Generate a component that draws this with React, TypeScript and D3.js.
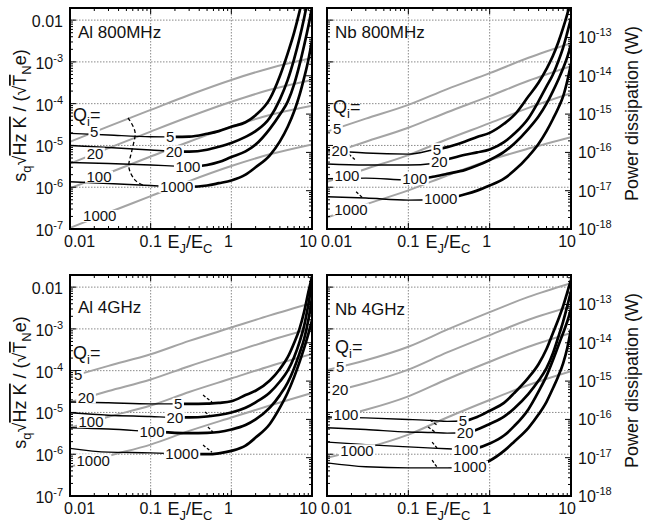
import React from "react";
import * as d3 from "d3";

// E_J/E_C sample points for the sensitivity (black) and power (gray) curves
const EJEC = [0.01, 0.03, 0.1, 0.2, 0.3, 0.5, 0.7, 1, 1.5, 2, 3, 4, 5, 6, 7, 8, 9, 10];
const EJEC_P = [0.01, 0.03, 0.1, 0.3, 1, 3, 10];
const QI = ["5", "20", "100", "1000"];

// charge sensitivity, one row per Qi (5, 20, 100, 1000)
const SENS_AL800 = [
  [1.95e-5, 1.78e-5, 1.62e-5, 1.6e-5, 1.62e-5, 1.9e-5, 2.2e-5, 2.8e-5, 3.6e-5, 5.3e-5, 1.3e-4, 4.6e-4, 1.6e-3, 5e-3, 1.6e-2, 5e-2, 0.15, 0.4],
  [1.0e-5, 8.9e-6, 7.8e-6, 7.2e-6, 7.1e-6, 7.9e-6, 9.3e-6, 1.15e-5, 1.6e-5, 2.2e-5, 4.6e-5, 1.27e-4, 3.7e-4, 1.17e-3, 3.65e-3, 1.14e-2, 3.6e-2, 0.11],
  [3.9e-6, 3.7e-6, 3.4e-6, 3.2e-6, 3.1e-6, 3.4e-6, 4.0e-6, 5.3e-6, 7.2e-6, 1.05e-5, 2.5e-5, 5.5e-5, 1.12e-4, 2.9e-4, 8.5e-4, 2.5e-3, 7e-3, 2e-2],
  [1.35e-6, 1.23e-6, 1.1e-6, 1.03e-6, 1.02e-6, 1.1e-6, 1.25e-6, 1.45e-6, 2.0e-6, 3.0e-6, 5.8e-6, 1.25e-5, 2.8e-5, 6.5e-5, 1.6e-4, 4.2e-4, 1.1e-3, 3.2e-3],
];
const SENS_NB800 = [
  [7.8e-6, 6.6e-6, 6.2e-6, 7.8e-6, 9.1e-6, 1.25e-5, 1.6e-5, 2.0e-5, 3.3e-5, 5.3e-5, 1.5e-4, 3.2e-4, 6.8e-4, 1.4e-3, 3e-3, 6.5e-3, 1.4e-2, 3e-2],
  [3.6e-6, 3.4e-6, 3.4e-6, 3.7e-6, 4.6e-6, 6.0e-6, 6.8e-6, 8.0e-6, 1.2e-5, 1.9e-5, 4.5e-5, 1.15e-4, 2.6e-4, 5e-4, 1.05e-3, 2.2e-3, 5e-3, 1.1e-2],
  [1.6e-6, 1.65e-6, 1.5e-6, 1.78e-6, 2.1e-6, 2.6e-6, 3.3e-6, 4.5e-6, 7e-6, 1.1e-5, 2.5e-5, 5e-5, 1e-4, 2e-4, 3.8e-4, 7e-4, 1.3e-3, 2.6e-3],
  [5.9e-7, 5.5e-7, 4.9e-7, 5.0e-7, 5.4e-7, 6.8e-7, 8.3e-7, 1.1e-6, 1.6e-6, 2.5e-6, 5.5e-6, 1.1e-5, 2.2e-5, 4.3e-5, 8e-5, 1.5e-4, 3.5e-4, 9e-4],
];
const SENS_AL4 = [
  [1.78e-5, 1.7e-5, 1.6e-5, 1.6e-5, 1.6e-5, 1.62e-5, 1.7e-5, 1.85e-5, 2.6e-5, 3.3e-5, 5.8e-5, 1.1e-4, 2.1e-4, 4.6e-4, 1.0e-3, 2.6e-3, 7.5e-3, 1.8e-2],
  [9.8e-6, 8.6e-6, 8.0e-6, 7.6e-6, 7.6e-6, 8.0e-6, 8.7e-6, 1.0e-5, 1.3e-5, 1.75e-5, 3.0e-5, 5.5e-5, 1.0e-4, 2.1e-4, 4.8e-4, 1.2e-3, 3.8e-3, 1.25e-2],
  [4.3e-6, 4.0e-6, 3.5e-6, 3.25e-6, 3.2e-6, 3.25e-6, 3.4e-6, 3.9e-6, 5.0e-6, 6.8e-6, 1.3e-5, 2.6e-5, 5.2e-5, 1.15e-4, 2.6e-4, 5.8e-4, 1.6e-3, 5.5e-3],
  [1.38e-6, 1.12e-6, 1.08e-6, 1.03e-6, 1.0e-6, 1.0e-6, 1.05e-6, 1.2e-6, 1.6e-6, 2.5e-6, 5.3e-6, 1.3e-5, 3e-5, 7e-5, 1.6e-4, 3.5e-4, 7.5e-4, 1.6e-3],
];
const SENS_NB4 = [
  [7.8e-6, 7.4e-6, 6.8e-6, 6.4e-6, 6.1e-6, 6.4e-6, 7.8e-6, 1.1e-5, 1.7e-5, 2.9e-5, 6.8e-5, 1.45e-4, 3.3e-4, 8e-4, 1.7e-3, 3.5e-3, 7.5e-3, 1.5e-2],
  [4.3e-6, 3.9e-6, 3.4e-6, 3.3e-6, 3.2e-6, 3.3e-6, 3.9e-6, 5.3e-6, 7.9e-6, 1.25e-5, 2.8e-5, 5.8e-5, 1.15e-4, 2.6e-4, 6.5e-4, 1.5e-3, 3.5e-3, 8e-3],
  [1.95e-6, 1.7e-6, 1.5e-6, 1.4e-6, 1.35e-6, 1.3e-6, 1.4e-6, 1.8e-6, 2.8e-6, 4.7e-6, 1.2e-5, 3.2e-5, 7.5e-5, 1.8e-4, 4e-4, 8e-4, 1.5e-3, 3e-3],
  [6.2e-7, 5.0e-7, 4.7e-7, 4.7e-7, 4.7e-7, 4.8e-7, 5.4e-7, 7.0e-7, 1.2e-6, 2.0e-6, 4.3e-6, 9e-6, 1.8e-5, 3.8e-5, 7.5e-5, 1.5e-4, 3.5e-4, 1e-3],
];

// power dissipation (W), one row per Qi
const POWER_AL800 = [
  [1.9e-16, 4.8e-16, 1.29e-15, 3.16e-15, 7.8e-15, 1.58e-14, 2.9e-14],
  [5.1e-17, 1.29e-16, 3.5e-16, 8.5e-16, 2.1e-15, 4.3e-15, 7.8e-15],
  [1.15e-17, 2.9e-17, 7.8e-17, 1.9e-16, 4.7e-16, 9.5e-16, 1.66e-15],
  [1.07e-18, 2.7e-18, 7.2e-18, 1.78e-17, 4.4e-17, 8.9e-17, 1.62e-16],
];
const POWER_NB800 = [
  [3.5e-16, 7.6e-16, 1.74e-15, 4.5e-15, 1.17e-14, 2.95e-14, 7.1e-14],
  [8.7e-17, 1.9e-16, 4.4e-16, 1.12e-15, 2.95e-15, 7.4e-15, 1.78e-14],
  [1.7e-17, 3.7e-17, 8.5e-17, 2.2e-16, 5.8e-16, 1.45e-15, 3.5e-15],
  [2.0e-18, 4.4e-18, 1.02e-17, 2.5e-17, 6.3e-17, 1.26e-16, 2.5e-16],
];
const POWER_AL4 = [
  [1.29e-15, 2.5e-15, 5e-15, 1.12e-14, 2.5e-14, 5.2e-14, 1.1e-13],
  [2.8e-16, 5.5e-16, 1.1e-15, 2.45e-15, 5.5e-15, 1.15e-14, 2.4e-14],
  [6.0e-17, 1.17e-16, 2.3e-16, 5.2e-16, 1.17e-15, 2.45e-15, 5.1e-15],
  [5.8e-18, 1.12e-17, 2.2e-17, 5e-17, 1.12e-16, 2.3e-16, 4.9e-16],
];
const POWER_NB4 = [
  [1.95e-15, 3.5e-15, 7.9e-15, 2.2e-14, 6.3e-14, 1.58e-13, 3.6e-13],
  [4.9e-16, 8.9e-16, 2.0e-15, 5.6e-15, 1.58e-14, 4e-14, 8.9e-14],
  [1e-16, 1.78e-16, 4e-16, 1.12e-15, 3.2e-15, 7.9e-15, 1.82e-14],
  [1e-17, 1.78e-17, 4e-17, 1.12e-16, 3.2e-16, 7.9e-16, 1.82e-15],
];

// E_J/E_C where each Qi label sits (black curve labels / gray curve labels)
const SENS_LABEL_AL800 = [0.174, 0.195, 0.29, 0.21];
const SENS_LABEL_NB800 = [0.225, 0.24, 0.12, 0.25];
const SENS_LABEL_AL4 = [0.22, 0.2, 0.104, 0.245];
const SENS_LABEL_NB4 = [0.47, 0.5, 0.51, 0.57];
const POWER_LABEL_AL800 = [0.0199, 0.0204, 0.0229, 0.0234];
const POWER_LABEL_NB800 = [0.0133, 0.0144, 0.0176, 0.0197];
const POWER_LABEL_AL4 = [0.0126, 0.0158, 0.0182, 0.0194];
const POWER_LABEL_NB4 = [0.0145, 0.0145, 0.0171, 0.0234];

// dashed boundary in the Al 800MHz panel
const DASH_AL800: [number, number][] = [
  [0.0524, 4.6e-5], [0.064, 2.1e-5], [0.0587, 7.8e-6], [0.0537, 3.0e-6], [0.064, 1.48e-6], [0.08, 1.12e-6],
];
// short dashed marks [x1, s1, x2, s2]
const MARKS_NB800 = [
  [0.0186, 6.2e-6, 0.0228, 4.3e-6],
  [0.0228, 7.8e-7, 0.0277, 5.5e-7],
];
const MARKS_AL4 = [
  [0.446, 2.6e-5, 0.575, 1.78e-5],
  [0.47, 1.02e-5, 0.575, 7.8e-6],
  [0.513, 4.5e-6, 0.59, 3.4e-6],
  [0.446, 1.66e-6, 0.575, 1.12e-6],
];
const MARKS_NB4 = [
  [0.185, 6.6e-6, 0.225, 5.0e-6],
  [0.175, 4.5e-6, 0.213, 3.4e-6],
  [0.196, 1.95e-6, 0.225, 1.41e-6],
  [0.196, 7.2e-7, 0.225, 4.9e-7],
];

const SENS_TICKS = [1e-2, 1e-3, 1e-4, 1e-5, 1e-6, 1e-7];
const POWER_TICKS = [1e-13, 1e-14, 1e-15, 1e-16, 1e-17, 1e-18];
const X_TICKS = [0.01, 0.1, 1, 10];

const SENS_TOP = Math.pow(10, -1.71);
const POWER_TOP = Math.pow(10, -12.23);

const COLS = [[70, 312], [327, 571]];
const ROWS = [[8, 229], [275, 496]];
const FONT = "Liberation Sans, Arial, Helvetica, sans-serif";
const GRAY = "#a4a4a4";

const PANELS = [
  { id: "al800", title: "Al 800MHz", col: 0, row: 0, sens: SENS_AL800, power: POWER_AL800, sLab: SENS_LABEL_AL800, pLab: POWER_LABEL_AL800, marks: [] as number[][], dash: DASH_AL800, titleDy: 30, qiDx: 3, qiDy: 113 },
  { id: "nb800", title: "Nb 800MHz", col: 1, row: 0, sens: SENS_NB800, power: POWER_NB800, sLab: SENS_LABEL_NB800, pLab: POWER_LABEL_NB800, marks: MARKS_NB800, dash: null, titleDy: 30, qiDx: 6, qiDy: 105 },
  { id: "al4", title: "Al 4GHz", col: 0, row: 1, sens: SENS_AL4, power: POWER_AL4, sLab: SENS_LABEL_AL4, pLab: POWER_LABEL_AL4, marks: MARKS_AL4, dash: null, titleDy: 38, qiDx: 3, qiDy: 84 },
  { id: "nb4", title: "Nb 4GHz", col: 1, row: 1, sens: SENS_NB4, power: POWER_NB4, sLab: SENS_LABEL_NB4, pLab: POWER_LABEL_NB4, marks: MARKS_NB4, dash: null, titleDy: 40, qiDx: 8, qiDy: 78 },
];

function logInterp(xs: number[], ys: number[], x: number) {
  const lx = Math.log10(x);
  for (let i = 0; i < xs.length - 1; i++) {
    if (x >= xs[i] && x <= xs[i + 1]) {
      const a = Math.log10(xs[i]), b = Math.log10(xs[i + 1]);
      const t = (lx - a) / (b - a);
      return Math.pow(10, Math.log10(ys[i]) + t * (Math.log10(ys[i + 1]) - Math.log10(ys[i])));
    }
  }
  return ys[ys.length - 1];
}

function isDecade(v: number) {
  const l = Math.log10(v);
  return Math.abs(l - Math.round(l)) < 1e-6;
}

function Label({ cx, cy, text, size = 15 }: { cx: number; cy: number; text: string; size?: number }) {
  const w = text.length * 0.556 * size;
  return (
    <g>
      <rect x={cx - w / 2 - 1.5} y={cy - 6} width={w + 3} height={12} fill="white" />
      <text x={cx} y={cy + 5.4} textAnchor="middle" fontSize={size}>{text}</text>
    </g>
  );
}

function Panel({ p }: { p: (typeof PANELS)[number] }) {
  const [x0, x1] = COLS[p.col];
  const [y0, y1] = ROWS[p.row];
  const x = d3.scaleLog().domain([0.01, 10]).range([x0, x1]);
  const y = d3.scaleLog().domain([1e-7, SENS_TOP]).range([y1, y0]);
  const yp = d3.scaleLog().domain([1e-18, POWER_TOP]).range([y1, y0]);

  const sensLine = d3.line<number>().x((_, i) => x(EJEC[i])).y((d) => y(d)).curve(d3.curveMonotoneX);
  const powLine = d3.line<number>().x((_, i) => x(EJEC_P[i])).y((d) => yp(d)).curve(d3.curveMonotoneX);
  const dashLine = d3.line<[number, number]>().x((d) => x(d[0])).y((d) => y(d[1])).curve(d3.curveCatmullRom);

  const clipId = `clip-${p.id}`;
  const xMinor = x.ticks();
  const sMinor = y.ticks().filter((v) => v >= 1e-7 && v <= SENS_TOP);
  const pMinor = yp.ticks().filter((v) => v >= 1e-18 && v <= POWER_TOP);

  return (
    <g>
      <defs>
        <clipPath id={clipId}>
          <rect x={x0} y={y0} width={x1 - x0} height={y1 - y0} />
        </clipPath>
        {p.sLab.map((lx, i) => (
          <React.Fragment key={i}>
            <clipPath id={`${clipId}-thin-${i}`}>
              <rect x={x0} y={y0} width={x(lx) - x0} height={y1 - y0} />
            </clipPath>
            <clipPath id={`${clipId}-thick-${i}`}>
              <rect x={x(lx)} y={y0} width={x1 - x(lx)} height={y1 - y0} />
            </clipPath>
          </React.Fragment>
        ))}
      </defs>

      {/* grid */}
      <g stroke="#8a8a8a" strokeWidth={1} strokeDasharray="1.5 1.5">
        {[0.1, 1].map((v) => (
          <line key={v} x1={x(v)} x2={x(v)} y1={y0} y2={y1} />
        ))}
        {SENS_TICKS.filter((v) => v > 1e-7).map((v) => (
          <line key={v} x1={x0} x2={x1} y1={y(v)} y2={y(v)} />
        ))}
      </g>

      {/* power curves */}
      <g clipPath={`url(#${clipId})`} fill="none" stroke={GRAY} strokeWidth={2}>
        {p.power.map((row, i) => (
          <path key={i} d={powLine(row) || ""} />
        ))}
      </g>

      {/* sensitivity curves: thin before label, thick after */}
      <g fill="none" stroke="#000">
        {p.sens.map((row, i) => (
          <g key={i} clipPath={`url(#${clipId})`}>
            <path d={sensLine(row) || ""} strokeWidth={1.4} clipPath={`url(#${clipId}-thin-${i})`} />
            <path d={sensLine(row) || ""} strokeWidth={2.7} clipPath={`url(#${clipId}-thick-${i})`} />
          </g>
        ))}
      </g>

      {/* dashed markers */}
      <g fill="none" stroke="#000" strokeWidth={1.3} strokeDasharray="4 2.5">
        {p.dash && <path d={dashLine(p.dash) || ""} />}
        {p.marks.map((m, i) => (
          <line key={i} x1={x(m[0])} y1={y(m[1])} x2={x(m[2])} y2={y(m[3])} strokeDasharray="3 2" />
        ))}
      </g>

      {/* labels */}
      <g fontFamily={FONT} fill="#111">
        {p.pLab.map((lx, i) => (
          <Label key={"p" + i} cx={x(lx)} cy={yp(logInterp(EJEC_P, p.power[i], lx))} text={QI[i]} />
        ))}
        {p.sLab.map((lx, i) => (
          <Label key={"s" + i} cx={x(lx)} cy={y(logInterp(EJEC, p.sens[i], lx))} text={QI[i]} />
        ))}
        <text x={x0 + 8} y={y0 + p.titleDy} fontSize={17}>{p.title}</text>
        <text x={x0 + p.qiDx} y={y0 + p.qiDy} fontSize={18}>
          Q<tspan fontSize={13} dy={5}>i</tspan>
          <tspan dy={-5}>=</tspan>
        </text>
      </g>

      {/* frame and ticks */}
      <rect x={x0} y={y0} width={x1 - x0} height={y1 - y0} fill="none" stroke="#000" strokeWidth={2} />
      <g stroke="#000" strokeWidth={1}>
        {sMinor.map((v) => {
          const L = isDecade(v) ? 6 : 3;
          return <line key={"s" + v} x1={x0} x2={x0 + L} y1={y(v)} y2={y(v)} />;
        })}
        {pMinor.map((v) => {
          const L = isDecade(v) ? 6 : 3;
          return <line key={"p" + v} x1={x1} x2={x1 - L} y1={yp(v)} y2={yp(v)} />;
        })}
        {xMinor.map((v) => {
          const L = isDecade(v) ? 6 : 3;
          return (
            <g key={"x" + v}>
              <line x1={x(v)} x2={x(v)} y1={y1} y2={y1 - L} />
              <line x1={x(v)} x2={x(v)} y1={y0} y2={y0 + L} />
            </g>
          );
        })}
      </g>

      {/* tick labels */}
      <g fontFamily={FONT} fontSize={16} fill="#111">
        {X_TICKS.map((v, i) => {
          const anchor = i === 0 ? "start" : i === X_TICKS.length - 1 ? "end" : "middle";
          const dx = i === 0 ? -6 : i === X_TICKS.length - 1 ? 5 : v === 1 ? -3 : 0;
          return (
            <text key={v} x={x(v) + dx} y={y1 + 18} textAnchor={anchor}>
              {v === 0.01 ? "0.01" : v === 0.1 ? "0.1" : String(v)}
            </text>
          );
        })}
        <text x={x(Math.sqrt(0.1)) - 1} y={y1 + 19} textAnchor="middle" fontSize={18}>
          E<tspan fontSize={13} dy={5}>J</tspan>
          <tspan dy={-5}>/E</tspan>
          <tspan fontSize={13} dy={5}>C</tspan>
        </text>
        {p.col === 0 &&
          SENS_TICKS.map((v) => (
            <text key={v} x={x0 - 7} y={y(v) + 7} textAnchor="end">
              {v === 1e-2 ? "0.01" : "10"}
              {v !== 1e-2 && (
                <tspan fontSize={11} dy={-7}>{"-" + Math.round(-Math.log10(v))}</tspan>
              )}
            </text>
          ))}
        {p.col === 1 &&
          POWER_TICKS.map((v) => (
            <text key={v} x={x1 + 7} y={yp(v) + 6} textAnchor="start">
              10
              <tspan fontSize={11} dy={-7}>{"-" + Math.round(-Math.log10(v))}</tspan>
            </text>
          ))}
      </g>

      {/* axis titles */}
      {p.col === 0 && (
        <text
          transform={`translate(26, ${(y0 + y1) / 2 - 3}) rotate(-90)`}
          textAnchor="middle"
          fontFamily={FONT}
          fontSize={18}
          fill="#111"
        >
          s<tspan fontSize={13} dy={5}>q</tspan>
          <tspan dy={-5}>√</tspan>
          <tspan style={{ textDecoration: "overline" }}>Hz K</tspan>
          <tspan> / (√</tspan>
          <tspan style={{ textDecoration: "overline" }}>T</tspan>
          <tspan fontSize={13} dy={5}>N</tspan>
          <tspan dy={-5}>e)</tspan>
        </text>
      )}
      {p.col === 1 && (
        <text
          transform={`translate(638, ${(y0 + y1) / 2 - 5}) rotate(-90)`}
          textAnchor="middle"
          fontFamily={FONT}
          fontSize={18}
          fill="#111"
        >
          Power dissipation (W)
        </text>
      )}
    </g>
  );
}

export default function App() {
  return (
    <svg width={645} height={527} style={{ position: "absolute", left: 0, top: 0, background: "#fff" }}>
      <rect width={645} height={527} fill="#fff" />
      {PANELS.map((p) => (
        <Panel key={p.id} p={p} />
      ))}
    </svg>
  );
}
